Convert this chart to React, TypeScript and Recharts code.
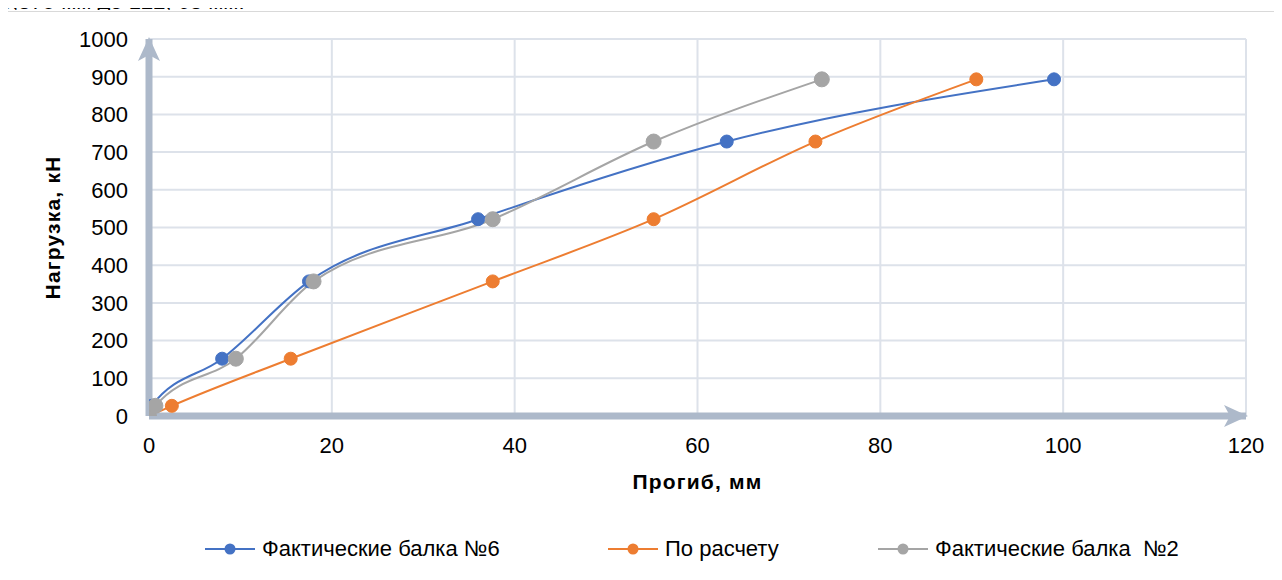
import React from "react";
import { LineChart, Line, XAxis, YAxis, CartesianGrid, Label } from "recharts";

const loads = [0, 27, 152, 357, 522, 728, 893];
const beam6Deflection = [0, 0.3, 8, 17.5, 36, 63.2, 99];
const calcDeflection = [0, 2.5, 15.5, 37.6, 55.2, 72.9, 90.5];
const beam2Deflection = [0, 0.7, 9.5, 18, 37.6, 55.2, 73.6];

const xTicks = [0, 20, 40, 60, 80, 100, 120];
const yTicks = [0, 100, 200, 300, 400, 500, 600, 700, 800, 900, 1000];

const seriesNames = ["Фактические балка №6", "По расчету", "Фактические балка  №2"];
const seriesColors = ["#4472C4", "#ED7D31", "#A5A5A5"];

const build = (xs: number[]) => xs.map((x, i) => ({ x, y: loads[i] }));
const seriesData = [build(beam6Deflection), build(calcDeflection), build(beam2Deflection)];

const AXIS = "#ADB9CA";
const FONT = "Arial, 'Liberation Sans', sans-serif";

export default function App() {
  return (
    <div style={{ position: "relative", width: 1282, height: 580, marginLeft: -8, marginTop: -8, overflow: "hidden", background: "#fff", fontFamily: FONT }}>
      <div style={{ position: "absolute", left: 7, top: 11, width: 1300, height: 600, borderLeft: "1px solid #D9D9D9", borderTop: "1px solid #D9D9D9" }} />
      <div style={{ position: "absolute", left: 0, top: 0 }}>
        <LineChart width={1282} height={580} margin={{ top: 39, right: 36, left: 49, bottom: 84 }}>
          <defs>
            <marker id="arrowEnd" markerUnits="userSpaceOnUse" markerWidth="24" markerHeight="22" viewBox="0 0 24 22" refX="22" refY="11" orient="auto">
              <path d="M0,0 L24,11 L0,22 L6,11 z" fill={AXIS} />
            </marker>
            <marker id="arrowStart" markerUnits="userSpaceOnUse" markerWidth="24" markerHeight="22" viewBox="0 0 24 22" refX="22" refY="11" orient="auto-start-reverse">
              <path d="M0,0 L24,11 L0,22 L6,11 z" fill={AXIS} />
            </marker>
          </defs>
          <CartesianGrid stroke="#DDE2EA" strokeWidth={2} />
          <XAxis
            type="number"
            dataKey="x"
            domain={[0, 120]}
            ticks={xTicks}
            allowDataOverflow
            height={80}
            tickLine={false}
            tickSize={6}
            tickMargin={15}
            axisLine={{ stroke: AXIS, strokeWidth: 7, markerEnd: "url(#arrowEnd)" } as any}
            tick={{ fill: "#000", fontSize: 22, fontFamily: FONT }}
          >
            <Label value="Прогиб, мм" position="insideBottom" offset={7} style={{ fill: "#000", fontSize: 21, fontWeight: "bold", letterSpacing: 1.2, fontFamily: FONT }} />
          </XAxis>
          <YAxis
            type="number"
            dataKey="y"
            domain={[0, 1000]}
            ticks={yTicks}
            allowDataOverflow
            width={100}
            tickLine={false}
            tickSize={6}
            tickMargin={15}
            axisLine={{ stroke: AXIS, strokeWidth: 7, markerStart: "url(#arrowStart)" } as any}
            tick={{ fill: "#000", fontSize: 22, fontFamily: FONT }}
          >
            <Label value="Нагрузка, кН" angle={-90} position="insideLeft" offset={4} style={{ textAnchor: "middle", fill: "#000", fontSize: 21, fontWeight: "bold", letterSpacing: 1.2, fontFamily: FONT }} />
          </YAxis>
          {seriesData.map((d, i) => (
            <Line
              key={seriesNames[i]}
              data={d}
              dataKey="y"
              type="monotone"
              stroke={seriesColors[i]}
              strokeWidth={2}
              dot={{ r: i === 2 ? 7.5 : 6.5, fill: seriesColors[i], stroke: seriesColors[i], strokeWidth: 1 }}
              activeDot={false}
              isAnimationActive={false}
              name={seriesNames[i]}
            />
          ))}
        </LineChart>
      </div>
      <svg style={{ position: "absolute", left: 0, top: 0 }} width={1282} height={10}>
        <text x={0} y={9} fontSize={22} fontFamily={FONT} fill="#000">6,375 мм до 122, 63 мм.</text>
      </svg>
      {[
        { left: 205 },
        { left: 608 },
        { left: 878 },
      ].map((p, i) => (
        <div key={i} style={{ position: "absolute", left: p.left, top: 537, height: 24, display: "flex", alignItems: "center", fontFamily: FONT, fontSize: 22, color: "#000", whiteSpace: "pre" }}>
          <svg width={52} height={20} style={{ marginRight: 5 }}>
            <line x1={0} y1={10} x2={50} y2={10} stroke={seriesColors[i]} strokeWidth={2} />
            <circle cx={25} cy={10} r={5.5} fill={seriesColors[i]} />
          </svg>
          <span>{seriesNames[i]}</span>
        </div>
      ))}
    </div>
  );
}
